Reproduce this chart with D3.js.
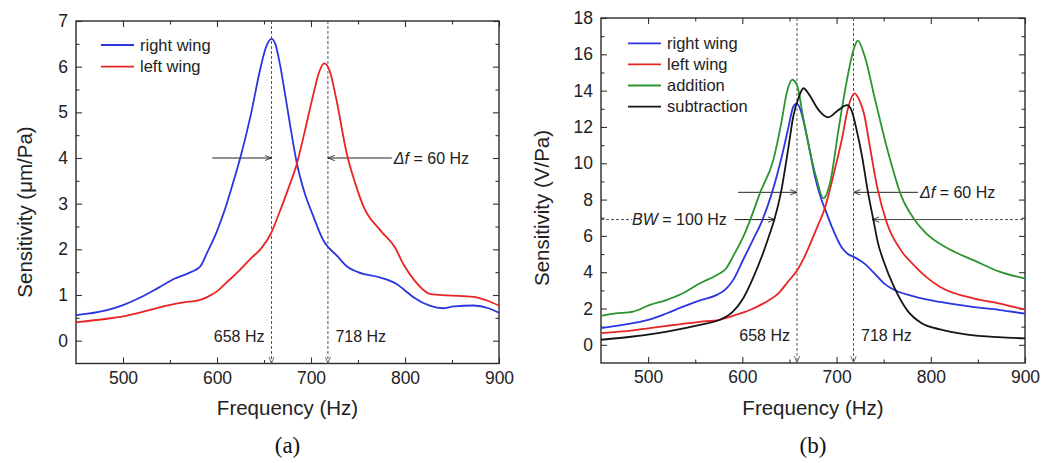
<!DOCTYPE html>
<html>
<head>
<meta charset="utf-8">
<script src="https://d3js.org/d3.v7.min.js"></script>
<style>
  body { margin: 0; background: #fff; }
  .tick text { font-family: 'Liberation Sans', Arial, sans-serif; font-size: 17.5px; fill: #222; }
  .tick line { stroke: #333; stroke-width: 1.1; }
</style>
</head>
<body>
<svg id="chart" width="1056" height="463"></svg>
<script>
// (a) displacement sensitivity, [frequency Hz, um/Pa]
const rightWingA = [[450,0.56],[483,0.67],[500,0.78],[519,0.95],[537,1.15],[554,1.35],[572,1.5],[582,1.62],[590,1.95],[600,2.4],[608,2.85],[617,3.45],[625,4.02],[636,4.95],[646,5.95],[652,6.42],[658,6.61],[662,6.5],[667,6.05],[672,5.45],[678,4.69],[685,3.88],[693,3.25],[702,2.75],[713,2.2],[729,1.83],[738,1.63],[750,1.5],[774,1.38],[791,1.24],[800,1.1],[809,0.95],[827,0.76],[840,0.71],[852,0.75],[873,0.77],[889,0.71],[900,0.61]];
const leftWingA = [[450,0.40],[483,0.48],[500,0.53],[519,0.62],[537,0.72],[554,0.80],[565,0.84],[580,0.88],[590,0.96],[600,1.08],[610,1.27],[622,1.5],[635,1.78],[647,2.02],[657,2.33],[664,2.68],[675,3.28],[685,3.88],[693,4.55],[702,5.35],[709,5.9],[714,6.07],[720,5.9],[727,5.28],[738,4.1],[747,3.45],[756,2.93],[774,2.41],[789,2.05],[799,1.65],[810,1.32],[827,1.02],[845,0.99],[873,0.96],[887,0.88],[900,0.77]];

// (b) electrical sensitivity, [frequency Hz, V/Pa]
const rightWingB = [[450,0.92],[484,1.19],[502,1.4],[520,1.74],[537,2.1],[555,2.45],[573,2.75],[583,3.1],[590,3.55],[601,4.7],[611,5.75],[621.5,6.9],[631,8.3],[642,10.4],[649,12.0],[654,13.1],[658,13.3],[662,12.9],[670,11.1],[677,9.28],[684,7.99],[688,7.45],[695,6.5],[705,5.4],[712,5.0],[718,4.85],[729,4.5],[740,3.95],[750,3.4],[761,3.03],[782,2.67],[810,2.36],[846,2.08],[872,1.93],[900,1.72]];
const leftWingB = [[450,0.64],[484,0.8],[520,1.05],[555,1.27],[576,1.38],[590,1.6],[608,1.92],[627,2.42],[638,2.82],[648,3.45],[658,4.1],[666,4.85],[672,5.55],[678,6.3],[688,7.61],[698,9.63],[705.5,11.28],[712.5,13.1],[719,13.85],[724,13.5],[729,12.75],[736,10.73],[743,8.71],[753.5,6.7],[768,5.23],[782,4.39],[796,3.7],[810,3.19],[846,2.55],[872,2.29],[900,1.94]];
const additionB = [[450,1.6],[464,1.72],[484,1.83],[502,2.2],[520,2.48],[537,2.84],[555,3.39],[573,3.85],[583,4.22],[590,4.86],[601,5.96],[608.5,6.9],[619,8.4],[633,10.2],[642,12.4],[647,13.85],[653,14.6],[658,14.3],[665,12.4],[672,10.6],[679,9.1],[686,8.07],[693,8.9],[702,11.83],[711,14.58],[718,16.24],[722.5,16.75],[730,15.87],[741,13.48],[755,10.55],[769,8.16],[782,6.95],[794,6.2],[810,5.55],[826,5.1],[846,4.65],[872,4.05],[900,3.65]];
const subtractionB = [[450,0.28],[484,0.46],[520,0.73],[555,1.1],[576,1.38],[590,1.83],[601,2.57],[612,3.76],[622,5.05],[629,6.1],[634,6.9],[641,8.4],[649,10.9],[654,12.56],[659.5,13.58],[665,14.13],[670,13.85],[681,12.93],[691,12.53],[702,12.93],[711,13.2],[716,12.9],[721,11.9],[727,10.4],[733,8.5],[739,6.9],[744,5.6],[750,4.6],[761,3.19],[775,1.9],[790,1.2],[810,0.85],[837,0.58],[872,0.42],[900,0.36]];

const xDomain = [450, 900];
const xTicks = [500, 600, 700, 800, 900];
const xMinorTicks = [550, 650, 750, 850];
const yTicksA = [0, 1, 2, 3, 4, 5, 6, 7];
const yMinorA = [0.5, 1.5, 2.5, 3.5, 4.5, 5.5, 6.5];
const yTicksB = [0, 2, 4, 6, 8, 10, 12, 14, 16, 18];
const yMinorB = [1, 3, 5, 7, 9, 11, 13, 15, 17];

const peakFreqs = [658, 718];
const peakLabels = ["658 Hz", "718 Hz"];
const legendA = ["right wing", "left wing"];
const legendB = ["right wing", "left wing", "addition", "subtraction"];

const sans = "'Liberation Sans', Arial, sans-serif";
const colors = { blue: "#2b35e0", red: "#e82424", green: "#2a952f", black: "#151515" };

const svg = d3.select("#chart");
const defs = svg.append("defs");
[["arrK", "#222"], ["arrG", "#555"]].forEach(([id, c]) => {
  defs.append("marker").attr("id", id)
      .attr("viewBox", "0 0 10 10").attr("refX", 10).attr("refY", 5)
      .attr("markerWidth", 7).attr("markerHeight", 7)
      .attr("markerUnits", "userSpaceOnUse").attr("orient", "auto")
    .append("path").attr("d", "M0,1.2 L10,5 L0,8.8")
      .attr("fill", "none").attr("stroke", c).attr("stroke-width", 1.2);
});

function drawPanel(p) {
  const g = svg.append("g");
  const x = d3.scaleLinear().domain(xDomain).range([p.left, p.right]);
  const y = d3.scaleLinear().domain(p.yDomain).range([p.bottom, p.top]);
  const clean = s => s.select(".domain").remove();

  // ticks on all four sides, pointing inward
  g.append("g").attr("transform", `translate(0,${p.bottom})`)
    .call(d3.axisBottom(x).tickValues(xTicks).tickSize(-6).tickPadding(8)).call(clean);
  g.append("g").attr("transform", `translate(0,${p.bottom})`)
    .call(d3.axisBottom(x).tickValues(xMinorTicks).tickSize(-3.5).tickFormat("")).call(clean);
  g.append("g").attr("transform", `translate(0,${p.top})`)
    .call(d3.axisTop(x).tickValues(xTicks).tickSize(-6).tickFormat("")).call(clean);
  g.append("g").attr("transform", `translate(0,${p.top})`)
    .call(d3.axisTop(x).tickValues(xMinorTicks).tickSize(-3.5).tickFormat("")).call(clean);
  g.append("g").attr("transform", `translate(${p.left},0)`)
    .call(d3.axisLeft(y).tickValues(p.yTicks).tickSize(-6).tickPadding(8)).call(clean);
  g.append("g").attr("transform", `translate(${p.left},0)`)
    .call(d3.axisLeft(y).tickValues(p.yMinor).tickSize(-3.5).tickFormat("")).call(clean);
  g.append("g").attr("transform", `translate(${p.right},0)`)
    .call(d3.axisRight(y).tickValues(p.yTicks).tickSize(-6).tickFormat("")).call(clean);
  g.append("g").attr("transform", `translate(${p.right},0)`)
    .call(d3.axisRight(y).tickValues(p.yMinor).tickSize(-3.5).tickFormat("")).call(clean);

  g.append("rect")
    .attr("x", p.left).attr("y", p.top)
    .attr("width", p.right - p.left).attr("height", p.bottom - p.top)
    .attr("fill", "none").attr("stroke", "#2a2a2a").attr("stroke-width", 1.4);

  // titles
  g.append("text")
    .attr("x", (p.left + p.right) / 2).attr("y", 415)
    .attr("text-anchor", "middle")
    .style("font-family", sans).style("font-size", "20.5px").attr("fill", "#222")
    .text("Frequency (Hz)");
  g.append("text")
    .attr("transform", `translate(${p.titleX},${p.titleY}) rotate(-90)`)
    .attr("text-anchor", "middle")
    .style("font-family", sans).style("font-size", "20.5px").attr("fill", "#222")
    .text(p.yTitle);
  g.append("text")
    .attr("x", (p.left + p.right) / 2).attr("y", 453)
    .attr("text-anchor", "middle")
    .style("font-family", "'Liberation Serif', 'Times New Roman', serif").style("font-size", "23px").attr("fill", "#111")
    .text(p.caption);

  // peak markers
  peakFreqs.forEach((f, i) => {
    g.append("line")
      .attr("x1", x(f)).attr("x2", x(f)).attr("y1", p.top).attr("y2", p.bottom)
      .attr("stroke", "#555").attr("stroke-width", 1).attr("stroke-dasharray", "3,2")
      .attr("marker-end", "url(#arrG)");
    g.append("text")
      .attr("x", i === 0 ? x(f) - 7 : x(f) + 7.5).attr("y", p.bottom - 22)
      .attr("text-anchor", i === 0 ? "end" : "start")
      .style("font-family", sans).style("font-size", "16px").attr("fill", "#222")
      .text(peakLabels[i]);
  });

  // delta f arrows
  const dy = y(p.dfLevel);
  p.dfTails.forEach((t, i) => {
    g.append("line").attr("x1", x(t)).attr("x2", x(peakFreqs[i]))
      .attr("y1", dy).attr("y2", dy).attr("stroke", "#222").attr("stroke-width", 1)
      .attr("marker-end", "url(#arrK)");
  });
  const dft = g.append("text")
    .attr("x", x(p.dfTails[1]) + 2).attr("y", dy).attr("dy", "0.36em")
    .style("font-family", sans).style("font-size", "16px").attr("fill", "#222");
  dft.append("tspan").style("font-style", "italic").text("\u0394f");
  dft.append("tspan").text(" = 60 Hz");

  // bandwidth marker
  if (p.bw) {
    const by = y(p.bw.level);
    g.append("line").attr("x1", x(xDomain[0])).attr("x2", x(p.bw.dashEnd))
      .attr("y1", by).attr("y2", by).attr("stroke", "#555").attr("stroke-dasharray", "3,2");
    const bwt = g.append("text")
      .attr("x", x(p.bw.tails[0]) - 8).attr("y", by).attr("dy", "0.36em")
      .attr("text-anchor", "end")
      .style("font-family", sans).style("font-size", "16px").attr("fill", "#222");
    bwt.append("tspan").style("font-style", "italic").text("BW");
    bwt.append("tspan").text(" = 100 Hz");
    g.append("line").attr("x1", x(p.bw.tails[0])).attr("x2", x(p.bw.edges[0]))
      .attr("y1", by).attr("y2", by).attr("stroke", "#222").attr("marker-end", "url(#arrK)");
    g.append("line").attr("x1", x(p.bw.tails[1])).attr("x2", x(p.bw.edges[1]))
      .attr("y1", by).attr("y2", by).attr("stroke", "#444").attr("marker-end", "url(#arrK)");
    g.append("line").attr("x1", x(p.bw.tails[1])).attr("x2", x(xDomain[1]))
      .attr("y1", by).attr("y2", by).attr("stroke", "#555").attr("stroke-dasharray", "3,2");
  }

  // curves
  const line = d3.line().x(d => x(d[0])).y(d => y(d[1])).curve(d3.curveMonotoneX);
  p.series.forEach(s => {
    g.append("path").datum(s.data)
      .attr("d", line).attr("fill", "none")
      .attr("stroke", s.color).attr("stroke-width", 1.8);
  });

  // legend
  p.series.forEach((s, i) => {
    const ly = p.legend.y + i * p.legend.step;
    g.append("line")
      .attr("x1", p.legend.x).attr("x2", p.legend.x + 33)
      .attr("y1", ly).attr("y2", ly)
      .attr("stroke", s.color).attr("stroke-width", 1.8);
    g.append("text")
      .attr("x", p.legend.x + 39).attr("y", ly).attr("dy", "0.35em")
      .style("font-family", sans).style("font-size", "16.5px").attr("fill", "#222")
      .text(p.legendNames[i]);
  });
}

drawPanel({
  left: 76, right: 499, top: 21, bottom: 363.5,
  yDomain: [-0.5, 7], yTicks: yTicksA, yMinor: yMinorA,
  yTitle: "Sensitivity (\u03bcm/Pa)", titleX: 32, titleY: 212, caption: "(a)",
  dfLevel: 4, dfTails: [595, 786],
  series: [
    { data: rightWingA, color: colors.blue },
    { data: leftWingA, color: colors.red }
  ],
  legendNames: legendA,
  legend: { x: 101, y: 45, step: 21.7 }
});

drawPanel({
  left: 601, right: 1025, top: 18, bottom: 363,
  yDomain: [-1, 18], yTicks: yTicksB, yMinor: yMinorB,
  yTitle: "Sensitivity (V/Pa)", titleX: 549, titleY: 208, caption: "(b)",
  dfLevel: 8.4, dfTails: [595.5, 786.5],
  bw: { level: 6.9, dashEnd: 483, tails: [592, 831], edges: [634.5, 738] },
  series: [
    { data: rightWingB, color: colors.blue },
    { data: leftWingB, color: colors.red },
    { data: additionB, color: colors.green },
    { data: subtractionB, color: colors.black }
  ],
  legendNames: legendB,
  legend: { x: 628, y: 43.3, step: 21.1 }
});
</script>
</body>
</html>
